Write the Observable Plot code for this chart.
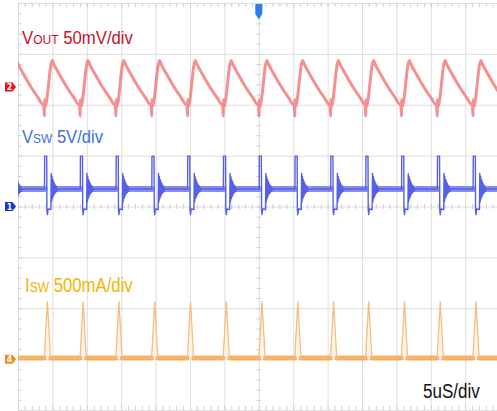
<!DOCTYPE html>
<html><head><meta charset="utf-8">
<script src="https://cdn.jsdelivr.net/npm/d3@7"></script>
<script src="https://cdn.jsdelivr.net/npm/@observablehq/plot@0.6"></script>
<style>
html,body{margin:0;padding:0;background:#fff;}
#chart{width:497px;height:411px;overflow:hidden;position:relative;}
#chart svg{display:block;}
</style></head><body><div id="chart"></div>
<script>
// ---- data ----
// time axis: 5 µs/div, 14 divisions, trigger (0 µs) at centre
const timeGrid = [-35, -30, -25, -20, -15, -10, -5, 0, 5, 10, 15, 20, 25, 30, 35];
const divGrid = [-4, -3, -2, -1, 0, 1, 2, 3, 4];
// switching edges (µs)
const edgeTimes = [-36.4, -31.2, -26.0, -20.8, -15.6, -10.4, -5.2, 0, 5.2, 10.4, 15.5, 20.7, 25.9, 31.1];

// channel settings: marker position (div) and units-per-div
const channels = ["VOUT", "VSW", "ISW"];
const channelOffset = [2.35, 0, -3];
const channelPerDiv = [50, 5, 500];       // mV, V, mA per div
const channelColor = ["#f27c7c", "#5560e6", "#f6aa55"];
const channelText = ["#c8102a", "#3f6fd8", "#f5b400"];

// VOUT ripple (mV) for one switching cycle, time after edge (µs)
const voutT = [-0.12, -0.05, 0.0, 0.06, 1.1, 1.3, 2.3, 3.3, 4.25, 4.95];
const voutV = [-16.5, -28, -12, -19, 26.5, 23.5, 11.0, -0.5, -10, -16.5];

// VSW (V) around each edge: high pulse, low, then ringing
const vswT = [-0.02, 0.0, 0.3, 0.33, 0.4, 0.5, 0.9, 0.95, 1.01, 1.07, 1.13, 1.19, 1.25, 1.31, 1.37, 1.43, 1.49, 1.55, 1.63, 1.71, 1.79, 1.9];
const vswV = [1.77, 5.0, 5.0, -0.3, -0.75, -0.2, -0.25, 3.3, 0.5, 3.0, 0.8, 2.7, 1.0, 2.5, 1.2, 2.3, 1.35, 2.15, 1.45, 2.05, 1.55, 1.77];
const vswIdle = 1.77;

// ISW (mA) triangle pulse at each edge
const iswT = [-0.05, 0.4, 0.85];
const iswV = [15, 570, 15];
const iswIdle = 15;

// ---- build tables ----
const toDiv = (ch, v) => channelOffset[ch] + v / channelPerDiv[ch];
const vout = [], vsw = [], vswBand = [], iswBand = [], iswTri = [];
edgeTimes.forEach((e, k) => {
  const next = edgeTimes[k + 1] ?? 40;
  voutT.forEach((t, i) => vout.push({t: e + t, y: toDiv(0, voutV[i])}));
  vswT.forEach((t, i) => vsw.push({t: e + t, y: toDiv(1, vswV[i])}));
  vsw.push({t: next - 0.03, y: toDiv(1, vswIdle)});
  vswBand.push({t: e + vswT[vswT.length - 1] - 0.4, y: toDiv(1, vswIdle), k});
  vswBand.push({t: next - 0.02, y: toDiv(1, vswIdle), k});
  iswT.forEach((t, i) => iswTri.push({t: e + t, y: toDiv(2, iswV[i]), k}));
  iswBand.push({t: e + iswT[2] + 0.05, y: toDiv(2, iswIdle), k});
  iswBand.push({t: next - 0.1, y: toDiv(2, iswIdle), k});
});

const minorX = d3.range(-35, 35.01, 1);
const minorY = d3.range(-4, 4.01, 0.2);
const grid = "#dedede";

const plot = Plot.plot({
  width: 497, height: 411,
  marginLeft: 18, marginRight: -2.6, marginTop: 3, marginBottom: 1,
  x: {domain: [-35, 35], axis: null},
  y: {domain: [-4, 4], axis: null},
  style: {background: "#fff", overflow: "hidden"},
  marks: [
    Plot.ruleX(timeGrid, {stroke: grid, strokeWidth: 1}),
    Plot.ruleY(divGrid, {stroke: grid, strokeWidth: 1}),
    Plot.ruleX(minorX, {y1: -0.05, y2: 0.05, stroke: "#cfcfcf"}),
    Plot.ruleY(minorY, {x1: -0.35, x2: 0.35, stroke: "#cfcfcf"}),
    Plot.ruleX(minorX, {y1: 4, y2: 3.92, stroke: "#cfcfcf"}),
    Plot.ruleX(minorX, {y1: -4, y2: -3.92, stroke: "#cfcfcf"}),
    Plot.ruleY(minorY, {x1: -35, x2: -34.45, stroke: "#cfcfcf"}),
    // VOUT
    Plot.line(vout, {x: "t", y: "y", stroke: channelColor[0], strokeWidth: 3, strokeOpacity: 0.85, curve: "monotone-x", clip: true}),
    // VSW
    Plot.line(vswBand, {x: "t", y: "y", z: "k", stroke: "#6a72ea", strokeWidth: 6, strokeOpacity: 0.8, clip: true}),
    Plot.line(vsw, {x: "t", y: "y", stroke: channelColor[1], strokeWidth: 1.4, clip: true}),
    // ISW
    Plot.areaY(iswTri, {x: "t", y1: toDiv(2, iswIdle), y2: "y", z: "k", fill: "#fef4e8", clip: true}),
    Plot.line(iswBand, {x: "t", y: "y", z: "k", stroke: channelColor[2], strokeWidth: 5, strokeOpacity: 0.9, clip: true}),
    Plot.line(iswTri, {x: "t", y: "y", z: "k", stroke: "#f8bd80", strokeWidth: 1.3, clip: true})
  ]
});
document.getElementById("chart").appendChild(plot);

// ---- overlays: labels and markers ----
const svg = d3.select(plot);
const X = plot.scale("x"), Y = plot.scale("y");
const font = "'Liberation Sans Narrow','Arial Narrow','Liberation Sans',Arial,sans-serif";
function label(x, y, color, size, width, parts) {
  const t = svg.append("text").attr("x", 0).attr("y", 0).attr("fill", color)
    .attr("text-anchor", "start")
    .style("font-family", font).style("font-size", size + "px");
  parts.forEach(([s, small]) => t.append("tspan").attr("font-size", small ? size * 0.72 : size).text(s));
  const w = t.node().getBBox().width || width;
  t.attr("transform", `translate(${x},${y}) scale(${width / w},1)`);
}
label(22, 43.5, channelText[0], 18, 111, [["V"], ["OUT", 1], [" 50mV/div"]]);
label(22, 143, channelText[1], 18, 81, [["V"], ["SW", 1], [" 5V/div"]]);
label(25, 292, channelText[2], 19.5, 108, [["I"], ["SW", 1], [" 500mA/div"]]);
label(423, 398, "#111", 19.5, 57, [["5uS/div"]]);

const markerNum = ["2", "1", "4"];
const markerFill = ["#e3101c", "#1e32d2", "#f08a1a"];
channels.forEach((c, i) => {
  const y = Y.apply(channelOffset[i]);
  svg.append("path").attr("d", `M5,${y - 4.5}H12.5L16,${y}L12.5,${y + 4.5}H5Z`).attr("fill", markerFill[i]);
  svg.append("text").attr("x", 9.5).attr("y", y + 3).attr("text-anchor", "middle").attr("fill", "#fff")
    .style("font-family", "'DejaVu Sans',sans-serif").style("font-size", "8px").style("font-weight", "bold").text(markerNum[i]);
});
const tx = X.apply(0);
svg.append("path").attr("d", `M${tx - 3.5},4H${tx + 3.5}V14L${tx},19.5L${tx - 3.5},14Z`).attr("fill", "#2f7fe6");
</script></body></html>
